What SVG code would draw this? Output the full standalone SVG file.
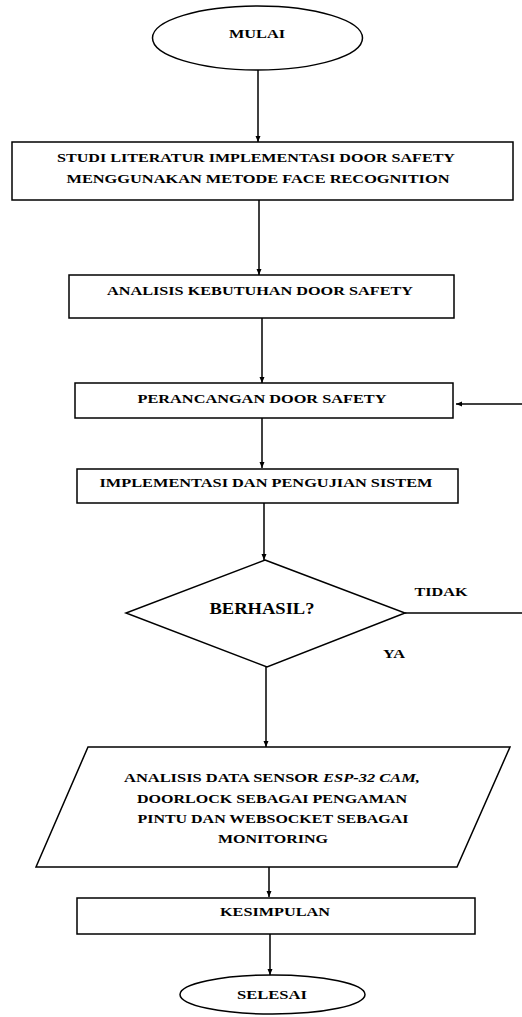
<svg xmlns="http://www.w3.org/2000/svg" width="522" height="1017" viewBox="0 0 522 1017">
<defs>
<marker id="arr" markerWidth="6" markerHeight="6" refX="6" refY="3" orient="auto" markerUnits="userSpaceOnUse">
<path d="M0,0.5 L6,3 L0,5.5 z" fill="#000"/>
</marker>
<style>
.shape{fill:#fff;stroke:#000;stroke-width:1.5}
.lbl{font-family:"Liberation Serif","Times New Roman",serif;font-weight:bold;font-size:13.5px;fill:#000;text-anchor:middle}
.big{font-size:17px}
.conn{fill:none;stroke:#000;stroke-width:1.5}
</style>
</defs>
<rect width="522" height="1017" fill="#fff"/>

<g id="connectors">
<line class="conn" x1="258" y1="70" x2="258" y2="142" marker-end="url(#arr)"/>
<line class="conn" x1="259" y1="200" x2="259" y2="275" marker-end="url(#arr)"/>
<line class="conn" x1="262" y1="318" x2="262" y2="383" marker-end="url(#arr)"/>
<line class="conn" x1="262" y1="418" x2="262" y2="468" marker-end="url(#arr)"/>
<line class="conn" x1="264" y1="503" x2="264" y2="560" marker-end="url(#arr)"/>
<line class="conn" x1="405" y1="613" x2="522" y2="613"/>
<line class="conn" x1="522" y1="404" x2="456" y2="404" marker-end="url(#arr)"/>
<line class="conn" x1="266" y1="667" x2="266" y2="747" marker-end="url(#arr)"/>
<line class="conn" x1="269" y1="838" x2="269" y2="897" marker-end="url(#arr)"/>
<line class="conn" x1="270" y1="934" x2="270" y2="975" marker-end="url(#arr)"/>
</g>

<g id="mulai">
<ellipse class="shape" cx="257.5" cy="38" rx="105" ry="32"/>
<text class="lbl" x="257" y="37.5" textLength="56" lengthAdjust="spacingAndGlyphs">MULAI</text>
</g>

<g id="studi">
<rect class="shape" x="12" y="142" width="501" height="58"/>
<text class="lbl" x="256" y="161.5" textLength="398" lengthAdjust="spacingAndGlyphs">STUDI LITERATUR IMPLEMENTASI DOOR SAFETY</text>
<text class="lbl" x="258" y="182.5" textLength="383" lengthAdjust="spacingAndGlyphs">MENGGUNAKAN METODE FACE RECOGNITION</text>
</g>

<g id="analisis">
<rect class="shape" x="69" y="275" width="385" height="43"/>
<text class="lbl" x="260" y="295" textLength="306" lengthAdjust="spacingAndGlyphs">ANALISIS KEBUTUHAN DOOR SAFETY</text>
</g>

<g id="perancangan">
<rect class="shape" x="75" y="383" width="378" height="35"/>
<text class="lbl" x="262" y="403" textLength="249" lengthAdjust="spacingAndGlyphs">PERANCANGAN DOOR SAFETY</text>
</g>

<g id="implementasi">
<rect class="shape" x="77" y="469" width="381" height="34"/>
<text class="lbl" x="266" y="487" textLength="333" lengthAdjust="spacingAndGlyphs">IMPLEMENTASI DAN PENGUJIAN SISTEM</text>
</g>

<g id="berhasil">
<polygon class="shape" points="265,560 405,613 267,667 126,613"/>
<text class="lbl big" x="262" y="614" textLength="105" lengthAdjust="spacingAndGlyphs">BERHASIL?</text>
</g>

<g id="label-tidak">
<text class="lbl" x="441" y="596" textLength="53" lengthAdjust="spacingAndGlyphs">TIDAK</text>
</g>
<g id="label-ya">
<text class="lbl" x="394" y="658" textLength="22" lengthAdjust="spacingAndGlyphs">YA</text>
</g>

<g id="analisis-data">
<polygon class="shape" points="88,747 510,747 457,867 36,867"/>
<text class="lbl" x="272" y="782" textLength="296" lengthAdjust="spacingAndGlyphs">ANALISIS DATA SENSOR <tspan font-style="italic">ESP-32 CAM,</tspan></text>
<text class="lbl" x="272" y="803" textLength="270" lengthAdjust="spacingAndGlyphs">DOORLOCK SEBAGAI PENGAMAN</text>
<text class="lbl" x="273" y="823" textLength="271" lengthAdjust="spacingAndGlyphs">PINTU DAN WEBSOCKET SEBAGAI</text>
<text class="lbl" x="273" y="843" textLength="110" lengthAdjust="spacingAndGlyphs">MONITORING</text>
</g>

<g id="kesimpulan">
<rect class="shape" x="77" y="898" width="398" height="36"/>
<text class="lbl" x="275" y="916" textLength="110" lengthAdjust="spacingAndGlyphs">KESIMPULAN</text>
</g>

<g id="selesai">
<ellipse class="shape" cx="272.5" cy="994.5" rx="92.5" ry="19.5"/>
<text class="lbl" x="272" y="999" textLength="70" lengthAdjust="spacingAndGlyphs">SELESAI</text>
</g>
</svg>
